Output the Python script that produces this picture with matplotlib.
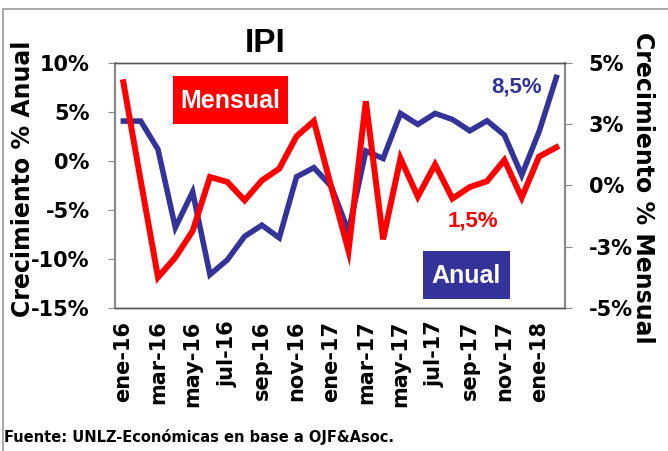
import matplotlib
matplotlib.use("Agg")
import matplotlib.pyplot as plt
from matplotlib.patches import Rectangle

months = ["ene-16", "feb-16", "mar-16", "abr-16", "may-16", "jun-16", "jul-16", "ago-16",
          "sep-16", "oct-16", "nov-16", "dic-16", "ene-17", "feb-17", "mar-17", "abr-17",
          "may-17", "jun-17", "jul-17", "ago-17", "sep-17", "oct-17", "nov-17", "dic-17",
          "ene-18", "feb-18"]
anual = [4.05, 4.05, 1.16, -6.8, -3.16, -11.6, -10.1, -7.7, -6.56, -7.85, -1.63, -0.7,
         -2.6, -7.2, 1.0, 0.24, 4.83, 3.71, 4.83, 4.22, 3.06, 4.08, 2.62, -1.46, 2.96, 8.5]
mensual = [4.2, 0.2, -3.75, -2.94, -1.86, 0.34, 0.14, -0.61, 0.2, 0.68, 2.0, 2.62,
           -0.05, -2.67, 3.43, -2.2, 1.1, -0.46, 0.85, -0.54, -0.07, 0.17, 1.03, -0.5, 1.17, 1.55]
left_ticks = [-15, -10, -5, 0, 5, 10]
left_labels = ["-15%", "-10%", "-5%", "0%", "5%", "10%"]
right_ticks = [-5, -2.5, 0, 2.5, 5]
right_labels = ["-5%", "-3%", "0%", "3%", "5%"]

BLUE = "#333399"
RED = "#FF0000"
WIDE = ["DejaVu Sans"]
ARIAL = ["Liberation Sans", "DejaVu Sans"]
plt.rcParams["font.family"] = WIDE

fig = plt.figure(figsize=(6.68, 4.51), dpi=100)
fig.patches.append(Rectangle((3 / 668, -0.1), 1.2, 1.1 - 9 / 451, transform=fig.transFigure,
                             fill=False, edgecolor="#999999", linewidth=1.2))

ax = fig.add_axes([114.7 / 668, 1 - 308 / 451, (565 - 114.7) / 668, (308 - 62.7) / 451])
ax2 = ax.twinx()
x = list(range(len(months)))

ax.plot(x, anual, color=BLUE, linewidth=4.0, solid_joinstyle="miter")
ax2.plot(x, mensual, color=RED, linewidth=4.3, solid_joinstyle="miter")

ax.set_xlim(-0.5, len(months) - 0.5)
ax.set_ylim(-15, 10)
ax2.set_ylim(-5, 5)
ax.set_yticks(left_ticks)
ax.set_yticklabels(left_labels, fontsize=15, fontweight="bold")
ax2.set_yticks(right_ticks)
ax2.set_yticklabels(right_labels, fontsize=15, fontweight="bold")
ax.set_xticks(x[::2])
ax.set_xticklabels(months[::2], rotation=90, fontsize=15, fontweight="bold")
ax.tick_params(axis="x", length=0, pad=9)
ax.tick_params(axis="y", length=5, color="#888888", pad=13, direction="out")
ax2.tick_params(axis="y", length=5, color="#888888", pad=12, direction="out")

for a in (ax, ax2):
    for s in a.spines.values():
        s.set_color("#555555")
        s.set_linewidth(1.0)
    a.spines["left"].set_color("#888888")
    a.spines["right"].set_color("#888888")
    a.spines["left"].set_linewidth(1.5)
    a.spines["right"].set_linewidth(1.5)

fig.text(265 / 668, 1 - 44 / 451, "IPI", ha="center", va="center", fontsize=24,
         fontweight="bold", family=["Liberation Sans Narrow", "Liberation Sans", "DejaVu Sans"])
fig.text(23.5 / 668, 1 - 179 / 451, "Crecimiento % Anual", rotation=90, ha="center",
         va="center", fontsize=17, fontweight="bold")
fig.text(643 / 668, 1 - 188 / 451, "Crecimiento % Mensual", rotation=-90, ha="center",
         va="center", fontsize=17, fontweight="bold")

# label boxes
fig.patches.append(Rectangle((173 / 668, 1 - 124 / 451), 115 / 668, 48 / 451,
                             transform=fig.transFigure, facecolor=RED, edgecolor="none", zorder=5))
fig.text(230.5 / 668, 1 - 101 / 451, "Mensual", ha="center", va="center", color="white",
         fontsize=18, fontweight="bold", family=ARIAL, zorder=6)
fig.patches.append(Rectangle((423 / 668, 1 - 299 / 451), 87 / 668, 48 / 451,
                             transform=fig.transFigure, facecolor=BLUE, edgecolor="none", zorder=5))
fig.text(466.5 / 668, 1 - 276 / 451, "Anual", ha="center", va="center", color="white",
         fontsize=18, fontweight="bold", family=ARIAL, zorder=6)

fig.text(517 / 668, 1 - 87 / 451, "8,5%", ha="center", va="center", color=BLUE,
         fontsize=16, fontweight="bold", family=ARIAL)
fig.text(473 / 668, 1 - 221 / 451, "1,5%", ha="center", va="center", color=RED,
         fontsize=16, fontweight="bold", family=ARIAL)

fig.text(4 / 668, 1 - 437 / 451, "Fuente: UNLZ-Económicas en base a OJF&Asoc.", ha="left",
         va="center", fontsize=10.5, fontweight="bold")

fig.savefig("out.png", dpi=100)
